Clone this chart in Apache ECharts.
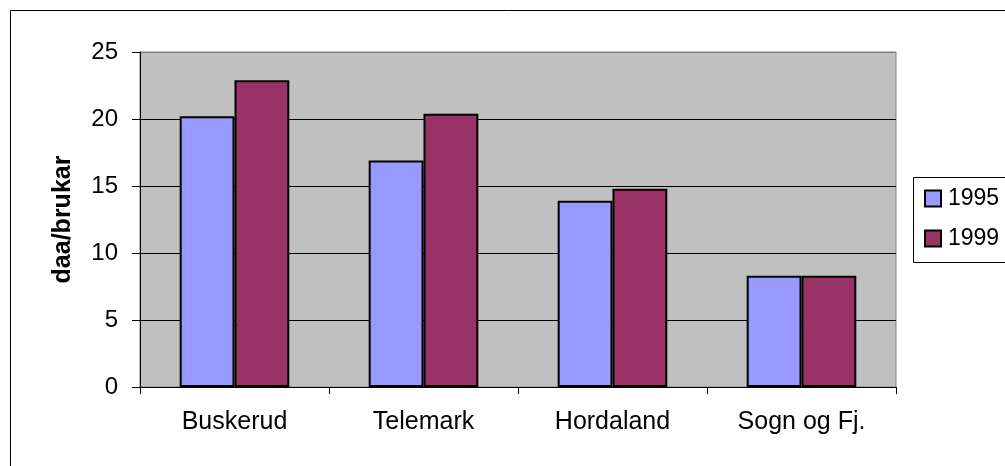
<!DOCTYPE html>
<html>
<head>
<meta charset="utf-8">
<script src="https://cdn.jsdelivr.net/npm/echarts@6/dist/echarts.min.js"></script>
<style>html,body{margin:0;padding:0;background:#fff}#c{width:1005px;height:466px}</style>
</head>
<body>
<div id="c"></div>
<script>
const categories = ['Buskerud', 'Telemark', 'Hordaland', 'Sogn og Fj.'];
const series1995 = [20.2, 16.9, 13.9, 8.3];
const series1999 = [22.9, 20.4, 14.8, 8.3];
const yTicks = [0, 5, 10, 15, 20, 25];
const seriesNames = ['1995', '1999'];

const chart = echarts.init(document.getElementById('c'), null, {renderer: 'canvas'});
const font = 'Liberation Sans, Arial, sans-serif';
chart.setOption({
  animation: false,
  backgroundColor: '#ffffff',
  textStyle: {fontFamily: font},
  graphic: [
    {type: 'rect', shape: {x: 10.5, y: 10.5, width: 1000, height: 470}, style: {fill: 'none', stroke: '#000', lineWidth: 1}, z: -10},
    {type: 'rect', shape: {x: 913.5, y: 177.5, width: 100, height: 85}, style: {fill: '#fff', stroke: '#000', lineWidth: 1}, z: 0}
  ],
  grid: {left: 140, right: 109, top: 52, bottom: 79, show: true, backgroundColor: '#C0C0C0', borderColor: '#808080', borderWidth: 1},
  legend: {
    orient: 'vertical', left: 919, top: 182, itemWidth: 16, itemHeight: 16, itemGap: 17,
    icon: 'rect',
    textStyle: {fontSize: 23, color: '#000', fontFamily: font, padding: [0, 0, 0, 2]},
    data: seriesNames, z: 10
  },
  xAxis: {
    type: 'category', data: categories,
    axisLine: {lineStyle: {color: '#000', width: 1}},
    axisTick: {show: true, length: 7, lineStyle: {color: '#000'}},
    axisLabel: {fontSize: 25, color: '#000', margin: 23, fontFamily: font}
  },
  yAxis: {
    type: 'value', min: 0, max: 25, interval: 5,
    name: 'daa/brukar', nameLocation: 'middle', nameGap: 64,
    nameTextStyle: {fontSize: 25, fontWeight: 'bold', color: '#000', fontFamily: font},
    axisLine: {show: true, lineStyle: {color: '#000', width: 1}},
    axisTick: {show: true, length: 8, lineStyle: {color: '#000'}},
    axisLabel: {fontSize: 24, color: '#000', margin: 22, fontFamily: font, formatter: v => yTicks.includes(v) ? String(v) : ''},
    splitLine: {show: true, lineStyle: {color: ['#000', '#000', '#000', '#000', '#000', '#808080'], width: 1}}
  },
  series: [
    {name: seriesNames[0], type: 'bar', data: series1995, barGap: '0%', barCategoryGap: '42%',
     itemStyle: {color: '#9999FF', borderColor: '#000', borderWidth: 2}},
    {name: seriesNames[1], type: 'bar', data: series1999, barGap: '0%', barCategoryGap: '42%',
     itemStyle: {color: '#993366', borderColor: '#000', borderWidth: 2}}
  ]
});
</script>
</body>
</html>
